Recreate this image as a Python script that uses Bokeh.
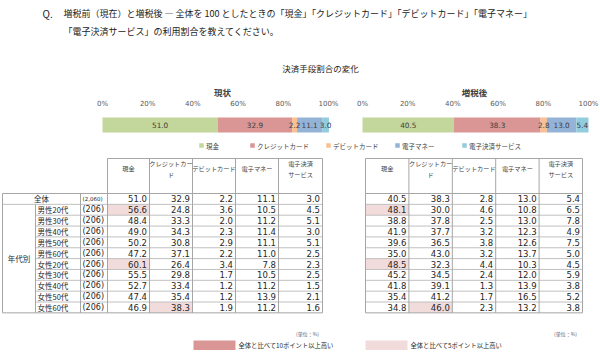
from bokeh.plotting import figure
from bokeh.models import Range1d
from bokeh.core.properties import value
from bokeh.embed import file_html
from bokeh.resources import INLINE

JP = "Noto Sans CJK JP"
NUM = "DejaVu Sans"

# ---------------- data ----------------
question_mark = "Q."
question_lines = [
    "増税前（現在）と増税後 ― 全体を 100 としたときの「現金」「クレジットカード」「デビットカード」「電子マネー」",
    "「電子決済サービス」の利用割合を教えてください。",
]
chart_title = "決済手段割合の変化"
panel_titles = ["現状", "増税後"]
categories = ["現金", "クレジットカード", "デビットカード", "電子マネー", "電子決済サービス"]
header_lines = [["現金"], ["クレジットカー", "ド"], ["デビットカード"], ["電子マネー"], ["電子決済", "サービス"]]
colors = ["#C3D69B", "#DA9694", "#FAC090", "#95B3D7", "#93CDDD"]
tick_values = [0, 20, 40, 60, 80, 100]
tick_labels = ["0%", "20%", "40%", "60%", "80%", "100%"]

overall_label = "全体"
overall_n = "(2,060)"
group_axis_label = "年代別"
groups = ["男性20代", "男性30代", "男性40代", "男性50代", "男性60代",
          "女性20代", "女性30代", "女性40代", "女性50代", "女性60代"]
group_n = ["(206)"] * 10

overall_before = [51.0, 32.9, 2.2, 11.1, 3.0]
overall_after = [40.5, 38.3, 2.8, 13.0, 5.4]

cash_before = [56.6, 48.4, 49.0, 50.2, 47.2, 60.1, 55.5, 52.7, 47.4, 46.9]
credit_before = [24.8, 33.3, 34.3, 30.8, 37.1, 26.4, 29.8, 33.4, 35.4, 38.3]
debit_before = [3.6, 2.0, 2.3, 2.9, 2.2, 3.4, 1.7, 1.2, 1.2, 1.9]
emoney_before = [10.5, 11.2, 11.4, 11.1, 11.0, 7.8, 10.5, 11.2, 13.9, 11.2]
epay_before = [4.5, 5.1, 3.0, 5.1, 2.5, 2.3, 2.5, 1.5, 2.1, 1.6]

cash_after = [48.1, 38.8, 41.9, 39.6, 35.0, 48.5, 45.2, 41.8, 35.4, 34.8]
credit_after = [30.0, 37.8, 37.7, 36.5, 43.0, 32.3, 34.5, 39.1, 41.2, 46.0]
debit_after = [4.6, 2.5, 3.2, 3.8, 3.2, 4.4, 2.4, 1.3, 1.7, 2.3]
emoney_after = [10.8, 13.0, 12.3, 12.6, 13.7, 10.3, 12.0, 13.9, 16.5, 13.2]
epay_after = [6.5, 7.8, 4.9, 7.5, 5.0, 4.5, 5.9, 3.8, 5.2, 3.8]

unit_note = "(単位：%)"
legend_high10 = "全体と比べて10ポイント以上高い"
legend_high5 = "全体と比べて5ポイント以上高い"
color_high10 = "#DA9694"
color_high5 = "#F2DCDB"

# ---------------- figure ----------------
W, H = 600, 355
p = figure(width=W, height=H, x_range=Range1d(0, W), y_range=Range1d(H, 0),
           output_backend="svg", toolbar_location=None, min_border=0,
           x_axis_type=None, y_axis_type=None)
p.grid.visible = False
p.outline_line_color = None
p.background_fill_color = "white"
p.border_fill_color = "white"


def txt(x, y, t, size, font=JP, align="left", color="#262626", bold=False, rname=None):
    kw = {}
    if rname:
        kw["x_range_name"] = rname
    p.text(x=x, y=y, text=t, text_font=value(font), text_font_size=value(size),
           text_align=align, text_baseline="middle", text_color=color,
           text_font_style="bold" if bold else "normal", **kw)


# title
txt([42], [13], [question_mark], "10px", color="#1a1a1a")
txt([63, 63], [13, 31], question_lines, "9px", color="#1a1a1a")
txt([320], [67], [chart_title], "8.5px", align="center")

# ---------------- stacked bars ----------------
BAR_Y, BAR_H, TICK_Y = 124.5, 15, 103
bar_specs = [("before", overall_before, 102, 328, 222),
             ("after", overall_after, 362, 588, 474)]
ranges = {}
for name, vals, x0, x1, _ in bar_specs:
    s = (x1 - x0) / 100.0
    ranges[name] = Range1d(-x0 / s, (W - x0) / s)
p.extra_x_ranges = ranges

for (name, vals, x0, x1, tx), ttl in zip(bar_specs, panel_titles):
    lefts, rights, mids = [], [], []
    acc = 0.0
    for v in vals:
        lefts.append(acc)
        rights.append(acc + v)
        mids.append(acc + v / 2)
        acc += v
    p.hbar(y=BAR_Y, height=BAR_H, left=lefts, right=rights, fill_color=colors,
           line_color=None, x_range_name=name)
    txt(mids, [BAR_Y] * len(vals), [f"{v:.1f}" for v in vals], "7.3px", font=NUM,
        align="center", color="#404040", rname=name)
    txt(tick_values, [TICK_Y] * len(tick_values), tick_labels, "7px", font=NUM,
        align="center", color="#595959", rname=name)
    txt([tx], [91], [ttl], "8.5px", align="center", bold=True, color="#404040")

# legend
LEG_Y = 145
legend_x = [201, 252, 328, 397, 464]
for lx, c, cat in zip(legend_x, colors, categories):
    p.rect(x=[lx], y=[LEG_Y], width=4.5, height=4.5, fill_color=c, line_color=None)
    txt([lx + 4.5], [LEG_Y], [cat], "6.5px", color="#404040")

# ---------------- tables ----------------
HEAD_TOP, DATA_TOP, ROW_H = 158, 193, 10.85
n_rows = 1 + len(groups)
DATA_BOT = DATA_TOP + n_rows * ROW_H
LINE_C = "#A6A6A6"
INNER_C = "#C0C0C0"


def draw_table(xe, overall, cols, with_labels):
    left_edge = 2 if with_labels else xe[0]
    # highlights (5 / 10 points above overall)
    ql, qr, qt, qb, qc = [], [], [], [], []
    for ci, col in enumerate(cols):
        for ri, v in enumerate(col):
            d = v - overall[ci]
            if d >= 5:
                ql.append(xe[ci]); qr.append(xe[ci + 1])
                qt.append(DATA_TOP + (ri + 1) * ROW_H); qb.append(DATA_TOP + (ri + 2) * ROW_H)
                qc.append(color_high10 if d >= 10 else color_high5)
    if ql:
        p.quad(left=ql, right=qr, top=qt, bottom=qb, fill_color=qc, line_color=None)
    # inner horizontal row lines
    x0s, y0s, x1s, y1s = [], [], [], []
    for r in range(1, n_rows):
        y = DATA_TOP + r * ROW_H
        xs = left_edge if r == 1 else (35 if with_labels else xe[0])
        x0s.append(xs); x1s.append(xe[-1]); y0s.append(y); y1s.append(y)
    p.segment(x0=x0s, y0=y0s, x1=x1s, y1=y1s, line_color=INNER_C, line_width=1)
    # frame lines
    x0s, y0s, x1s, y1s = [], [], [], []
    for x in xe:
        x0s.append(x); x1s.append(x); y0s.append(HEAD_TOP); y1s.append(DATA_BOT)
    x0s += [xe[0], left_edge, left_edge]
    x1s += [xe[-1], xe[-1], xe[-1]]
    y0s += [HEAD_TOP, DATA_TOP, DATA_BOT]
    y1s += [HEAD_TOP, DATA_TOP, DATA_BOT]
    if with_labels:
        x0s += [2, 35, 80]; x1s += [2, 35, 80]
        y0s += [DATA_TOP, DATA_TOP + ROW_H, DATA_TOP]; y1s += [DATA_BOT, DATA_BOT, DATA_BOT]
    p.segment(x0=x0s, y0=y0s, x1=x1s, y1=y1s, line_color=LINE_C, line_width=1)
    # headers
    for ci, lines in enumerate(header_lines):
        cx = (xe[ci] + xe[ci + 1]) / 2
        if len(lines) == 1:
            txt([cx], [168], lines, "6.2px", align="center", color="#404040")
        else:
            txt([cx, cx], [163, 174], lines, "6.2px", align="center", color="#404040")
    # values
    rows_vals = [overall] + [list(r) for r in zip(*cols)]
    xs, ys, ts = [], [], []
    for ri, row in enumerate(rows_vals):
        cy = DATA_TOP + (ri + 0.5) * ROW_H
        for ci, v in enumerate(row):
            xs.append(xe[ci + 1] - 2.5); ys.append(cy); ts.append(f"{v:.1f}")
    txt(xs, ys, ts, "8.5px", font=NUM, align="right", color="#262626")
    if with_labels:
        cy0 = DATA_TOP + 0.5 * ROW_H
        txt([41], [cy0], [overall_label], "7.5px", align="center", color="#262626")
        txt([82], [cy0], [overall_n], "5.5px", font=NUM, color="#262626")
        gy = [DATA_TOP + (i + 1.5) * ROW_H for i in range(len(groups))]
        txt([37] * len(groups), gy, groups, "7.5px", color="#262626")
        txt([82] * len(groups), gy, group_n, "8px", font=NUM, color="#262626")
        txt([18.5], [(DATA_TOP + ROW_H + DATA_BOT) / 2], [group_axis_label], "7.5px",
            align="center", color="#262626")


left_edges = [107, 149, 192, 235, 278, 322]
right_edges = [365, 408.4, 451.8, 495.2, 538.6, 582]
draw_table(left_edges, overall_before,
           [cash_before, credit_before, debit_before, emoney_before, epay_before], True)
draw_table(right_edges, overall_after,
           [cash_after, credit_after, debit_after, emoney_after, epay_after], False)

# footers
txt([307, 565], [333, 333], [unit_note, unit_note], "5px", align="center", color="#595959")
p.quad(left=[193], right=[235], top=[340], bottom=[349.5], fill_color=color_high10, line_color=None)
txt([238], [344.5], [legend_high10], "6.3px", color="#262626")
p.quad(left=[365], right=[407], top=[340], bottom=[349.5], fill_color=color_high5, line_color=None)
txt([410], [344.5], [legend_high5], "6.3px", color="#262626")

open("out.html", "w").write(file_html(p, INLINE))
